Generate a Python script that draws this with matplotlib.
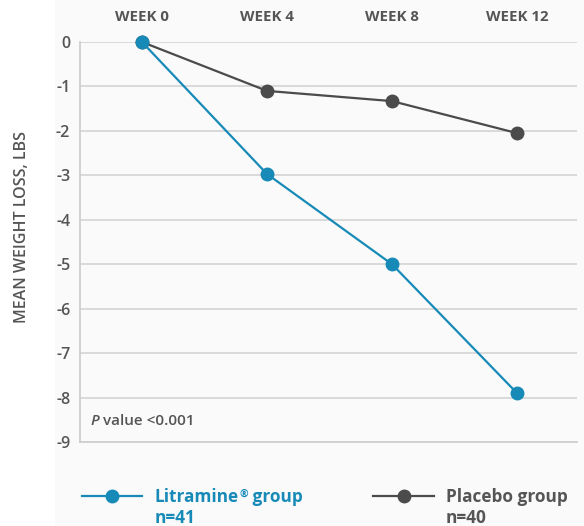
import matplotlib
matplotlib.use("Agg")
import matplotlib.pyplot as plt
from matplotlib.lines import Line2D
from matplotlib.patches import Rectangle

plt.rcParams['font.family'] = ['Open Sans', 'DejaVu Sans']

weeks = ["WEEK 0", "WEEK 4", "WEEK 8", "WEEK 12"]
litramine = [0, -2.97, -5.0, -7.9]
placebo = [0, -1.1, -1.33, -2.05]
yticks = list(range(0, -10, -1))

blue = '#178ab7'
dark = '#4b4b4b'
txt = '#555555'
grid = '#d4d4d4'

W, H = 584, 526
fig = plt.figure(figsize=(W / 100, H / 100), dpi=100, facecolor='#fafafa')
fig.patches.append(Rectangle((0, 0), 55 / W, 1, transform=fig.transFigure,
                             facecolor='white', edgecolor='none', zorder=-10))
renderer = fig.canvas.get_renderer()

ax = fig.add_axes([80 / W, 1 - 442 / H, (577 - 80) / W, 400 / H])
ax.set_facecolor('none')
x = list(range(len(weeks)))
ax.plot(x, placebo, color=dark, lw=1.6, marker='o', ms=9, clip_on=False, zorder=3)
ax.plot(x, litramine, color=blue, lw=1.6, marker='o', ms=9, clip_on=False, zorder=4)

ax.set_xlim(-0.496, 3.48)
ax.set_ylim(-9, 0)
ax.set_yticks(yticks)
ax.set_yticklabels([str(v) for v in yticks])
ax.yaxis.grid(True, color=grid, lw=1.2)
ax.set_axisbelow(True)
ax.xaxis.tick_top()
ax.set_xticks(x)
ax.set_xticklabels(weeks, fontsize=10.8, fontweight='bold', color=txt)
ax.tick_params(axis='x', length=0, pad=13)
ax.tick_params(axis='y', length=0, pad=7, labelcolor=txt)
for lab in ax.get_yticklabels():
    lab.set_fontsize(11.5)
    lab.set_fontweight('semibold')
for s in ['top', 'right']:
    ax.spines[s].set_visible(False)
for s in ['left', 'bottom']:
    ax.spines[s].set_color('#cccccc')
    ax.spines[s].set_linewidth(1.2)

fig.text(22 / W, 1 - 227 / H, "MEAN WEIGHT LOSS, LBS", fontsize=11.5, fontweight='semibold',
         color=txt, rotation=90, ha='center', va='center')


def seq(x0, y0, parts):
    """Place text pieces one after another; parts = (string, kwargs, dy_px)."""
    xc = x0
    for s, kw, dy in parts:
        t = fig.text(xc / W, 1 - (y0 - dy) / H, s, ha='left', va='baseline', **kw)
        bb = t.get_window_extent(renderer)
        xc += bb.width


seq(90, 425, [("P", dict(fontsize=11, color=txt, style='italic', fontweight='semibold'), 0),
              (" value <0.001", dict(fontsize=11, color=txt, fontweight='semibold'), 0)])


def leg(x0, x1, color):
    fig.lines.append(Line2D([x0 / W, x1 / W], [1 - 496 / H] * 2, color=color, lw=1.6,
                            transform=fig.transFigure))
    fig.lines.append(Line2D([(x0 + x1) / 2 / W], [1 - 496 / H], color=color, marker='o', ms=9,
                            transform=fig.transFigure))


leg(82, 142, blue)
bold_blue = dict(fontsize=12.4, fontweight='bold', color=blue)
seq(155, 502, [("Litramine", bold_blue, 0),
               ("®", dict(fontsize=7.5, fontweight='bold', color=blue), 5),
               (" group", bold_blue, 0)])
seq(155, 523, [("n=41", bold_blue, 0)])
leg(373, 434, dark)
bold_gray = dict(fontsize=12.4, fontweight='bold', color=txt)
seq(446, 502, [("Placebo group", bold_gray, 0)])
seq(446, 523, [("n=40", bold_gray, 0)])

fig.savefig("out.png", dpi=100, facecolor=fig.get_facecolor())
